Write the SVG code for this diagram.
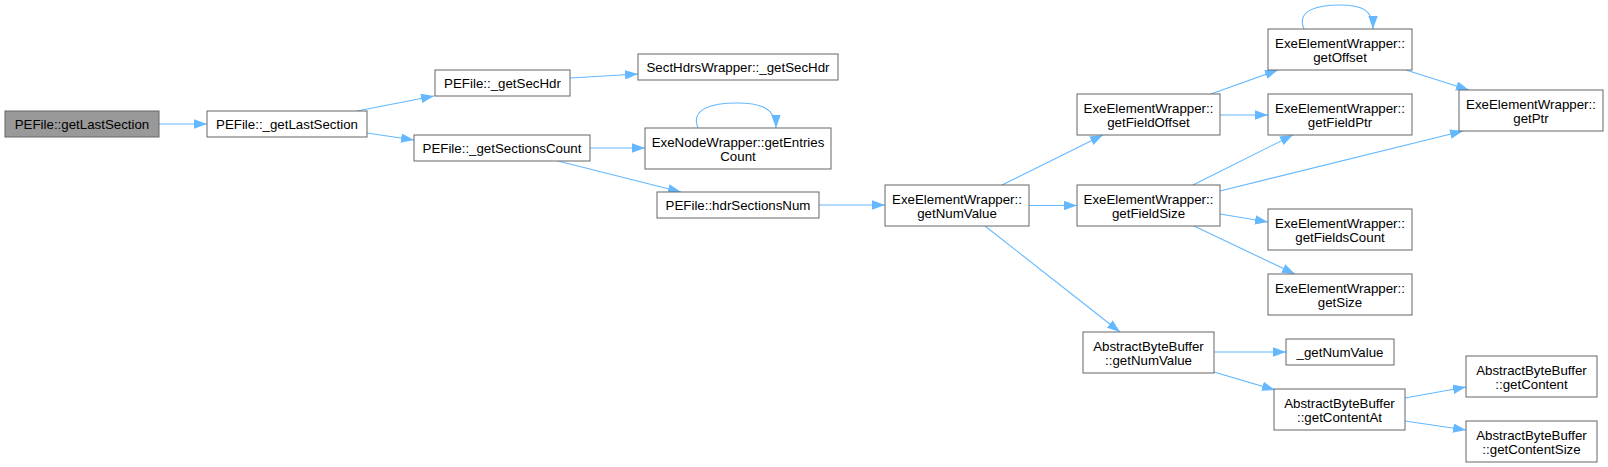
<svg xmlns="http://www.w3.org/2000/svg" width="1608" height="467" viewBox="0 0 1608 467">
<style>
.n rect{fill:#ffffff;stroke:#666666;stroke-width:1}
.n.root rect{fill:#999999}
.n text{font-family:"Liberation Sans",Arial,Helvetica,sans-serif;font-size:13.3px;fill:#000000;text-anchor:middle}
.e path{fill:none;stroke:#63b8ff;stroke-width:1.1;marker-end:url(#ah)}
</style>
<defs>
<marker id="ah" viewBox="0 0 13 9.4" refX="13" refY="4.7" markerUnits="userSpaceOnUse" markerWidth="13" markerHeight="9.4" orient="auto">
<path d="M0,0 L13,4.7 L0,9.4 z" fill="#63b8ff"/>
</marker>
</defs>
<rect width="1608" height="467" fill="#ffffff"/>
<g id="connectors" class="e">
<path d="M159,124 L207,124"/>
<path d="M357,111 L434,96"/>
<path d="M367,133 L414,140"/>
<path d="M570,78 L638,74"/>
<path d="M590,148 L645,148"/>
<path d="M558,161 L681,192"/>
<path d="M698,128 C690,109 712,103 737,103 C760,103 776,108 776,128"/>
<path d="M819,205 L885,205"/>
<path d="M1002,185 L1103,135"/>
<path d="M1029,205.5 L1077,205.5"/>
<path d="M985,226 L1120,332"/>
<path d="M1211,94 L1278,70"/>
<path d="M1220,115 L1268,115"/>
<path d="M1193,185 L1293,135"/>
<path d="M1220,191 L1463,131"/>
<path d="M1406,70 L1469,90"/>
<path d="M1220,214 L1268,222"/>
<path d="M1194,226 L1295,274"/>
<path d="M1214,352 L1286,352"/>
<path d="M1214,372 L1275,390"/>
<path d="M1405,398 L1466,387"/>
<path d="M1405,421 L1466,430"/>
<path d="M1304,29 C1296,10 1318,5 1340,5 C1362,5 1373,10 1373,29"/>
</g>
<g id="n_getLastSection" class="n root"><rect x="5" y="111" width="154" height="26"/><text x="82" y="129">PEFile::getLastSection</text></g>
<g id="n__getLastSection" class="n"><rect x="207" y="111" width="160" height="26"/><text x="287" y="129">PEFile::_getLastSection</text></g>
<g id="n__getSecHdr" class="n"><rect x="435" y="70" width="135" height="26"/><text x="502.5" y="88">PEFile::_getSecHdr</text></g>
<g id="n__getSectionsCount" class="n"><rect x="414" y="135" width="176" height="26"/><text x="502" y="153">PEFile::_getSectionsCount</text></g>
<g id="n_SectHdrs_getSecHdr" class="n"><rect x="638" y="54" width="200" height="26"/><text x="738" y="72">SectHdrsWrapper::_getSecHdr</text></g>
<g id="n_getEntriesCount" class="n"><rect x="645" y="128" width="186" height="41"/><text x="738" y="146.5">ExeNodeWrapper::getEntries</text><text x="738" y="161">Count</text></g>
<g id="n_hdrSectionsNum" class="n"><rect x="657" y="192" width="162" height="26"/><text x="738" y="210">PEFile::hdrSectionsNum</text></g>
<g id="n_EEW_getNumValue" class="n"><rect x="885" y="185" width="144" height="41"/><text x="957" y="203.5">ExeElementWrapper::</text><text x="957" y="218">getNumValue</text></g>
<g id="n_getFieldOffset" class="n"><rect x="1077" y="94" width="143" height="41"/><text x="1148.5" y="112.5">ExeElementWrapper::</text><text x="1148.5" y="127">getFieldOffset</text></g>
<g id="n_getFieldSize" class="n"><rect x="1077" y="185" width="143" height="41"/><text x="1148.5" y="203.5">ExeElementWrapper::</text><text x="1148.5" y="218">getFieldSize</text></g>
<g id="n_getOffset" class="n"><rect x="1268" y="29" width="144" height="41"/><text x="1340" y="47.5">ExeElementWrapper::</text><text x="1340" y="62">getOffset</text></g>
<g id="n_getFieldPtr" class="n"><rect x="1268" y="94" width="144" height="41"/><text x="1340" y="112.5">ExeElementWrapper::</text><text x="1340" y="127">getFieldPtr</text></g>
<g id="n_getPtr" class="n"><rect x="1459" y="90" width="144" height="41"/><text x="1531" y="108.5">ExeElementWrapper::</text><text x="1531" y="123">getPtr</text></g>
<g id="n_getFieldsCount" class="n"><rect x="1268" y="209" width="144" height="41"/><text x="1340" y="227.5">ExeElementWrapper::</text><text x="1340" y="242">getFieldsCount</text></g>
<g id="n_getSize" class="n"><rect x="1268" y="274" width="144" height="41"/><text x="1340" y="292.5">ExeElementWrapper::</text><text x="1340" y="307">getSize</text></g>
<g id="n_ABB_getNumValue" class="n"><rect x="1083" y="332" width="131" height="41"/><text x="1148.5" y="350.5">AbstractByteBuffer</text><text x="1148.5" y="365">::getNumValue</text></g>
<g id="n__getNumValue" class="n"><rect x="1286" y="339" width="108" height="26"/><text x="1340" y="357">_getNumValue</text></g>
<g id="n_getContentAt" class="n"><rect x="1274" y="389" width="131" height="41"/><text x="1339.5" y="407.5">AbstractByteBuffer</text><text x="1339.5" y="422">::getContentAt</text></g>
<g id="n_getContent" class="n"><rect x="1466" y="356" width="131" height="41"/><text x="1531.5" y="374.5">AbstractByteBuffer</text><text x="1531.5" y="389">::getContent</text></g>
<g id="n_getContentSize" class="n"><rect x="1466" y="421" width="131" height="41"/><text x="1531.5" y="439.5">AbstractByteBuffer</text><text x="1531.5" y="454">::getContentSize</text></g>
</svg>
